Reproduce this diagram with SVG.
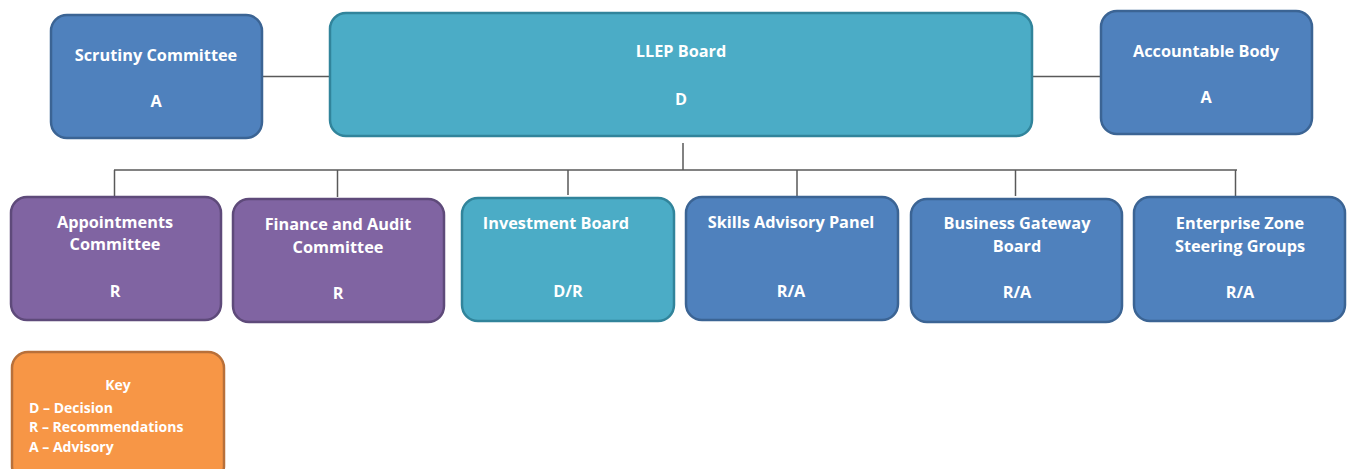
<svg xmlns="http://www.w3.org/2000/svg" width="1349" height="469" viewBox="0 0 1349 469">
<style>
.blue{fill:#4f81bd;stroke:#3b6494;stroke-width:2.5}
.teal{fill:#4bacc6;stroke:#31849b;stroke-width:2.5}
.purple{fill:#8064a2;stroke:#5e4a7a;stroke-width:2.5}
.orange{fill:#f79646;stroke:#b8703a;stroke-width:2.5}
text{font-family:"Open Sans","Noto Sans",sans-serif;font-weight:bold;font-size:16.3px;fill:#ffffff;text-anchor:middle}
.key{font-size:14px}
.kl{text-anchor:start}
.conn{stroke:#595959;stroke-width:1.5;fill:none}
</style>
<rect width="1349" height="469" fill="#ffffff"/>
<g id="connectors">
<line class="conn" x1="262" y1="76.5" x2="330" y2="76.5"/>
<line class="conn" x1="1032" y1="76.5" x2="1101" y2="76.5"/>
<line class="conn" x1="683" y1="143" x2="683" y2="170"/>
<line class="conn" x1="114" y1="170" x2="1237" y2="170"/>
<line class="conn" x1="114.5" y1="170" x2="114.5" y2="196"/>
<line class="conn" x1="337.5" y1="170" x2="337.5" y2="197"/>
<line class="conn" x1="568" y1="170" x2="568" y2="195"/>
<line class="conn" x1="797" y1="170" x2="797" y2="196"/>
<line class="conn" x1="1015.5" y1="170" x2="1015.5" y2="196"/>
<line class="conn" x1="1235.5" y1="170" x2="1235.5" y2="196"/>
</g>
<g id="scrutiny">
<rect class="blue" x="51" y="15" width="211" height="123" rx="16"/>
<text x="156" y="61">Scrutiny Committee</text>
<text x="156" y="107">A</text>
</g>
<g id="llep">
<rect class="teal" x="330" y="13" width="702" height="123" rx="16"/>
<text x="681" y="57">LLEP Board</text>
<text x="681" y="105">D</text>
</g>
<g id="accountable">
<rect class="blue" x="1101" y="11" width="211" height="123" rx="16"/>
<text x="1206" y="57">Accountable Body</text>
<text x="1206" y="103">A</text>
</g>
<g id="appointments">
<rect class="purple" x="11" y="197" width="210" height="123" rx="16"/>
<text x="115" y="228">Appointments</text>
<text x="115" y="250">Committee</text>
<text x="115" y="297">R</text>
</g>
<g id="finance">
<rect class="purple" x="233" y="199" width="211" height="123" rx="16"/>
<text x="338" y="230">Finance and Audit</text>
<text x="338" y="253">Committee</text>
<text x="338" y="299">R</text>
</g>
<g id="investment">
<rect class="teal" x="462" y="198" width="212" height="123" rx="16"/>
<text x="556" y="229">Investment Board</text>
<text x="568" y="297">D/R</text>
</g>
<g id="skills">
<rect class="blue" x="686" y="197" width="212" height="123" rx="16"/>
<text x="791" y="228">Skills Advisory Panel</text>
<text x="791" y="297">R/A</text>
</g>
<g id="business">
<rect class="blue" x="911" y="199" width="211" height="123" rx="16"/>
<text x="1017" y="229">Business Gateway</text>
<text x="1017" y="252">Board</text>
<text x="1017" y="298">R/A</text>
</g>
<g id="enterprise">
<rect class="blue" x="1134" y="197" width="211" height="124" rx="16"/>
<text x="1240" y="229">Enterprise Zone</text>
<text x="1240" y="252">Steering Groups</text>
<text x="1240" y="298">R/A</text>
</g>
<g id="key">
<rect class="orange" x="12" y="352" width="212" height="130" rx="16"/>
<text class="key" x="118" y="390">Key</text>
<text class="key kl" x="29" y="413">D – Decision</text>
<text class="key kl" x="29" y="432">R – Recommendations</text>
<text class="key kl" x="29" y="452">A – Advisory</text>
</g>
</svg>
